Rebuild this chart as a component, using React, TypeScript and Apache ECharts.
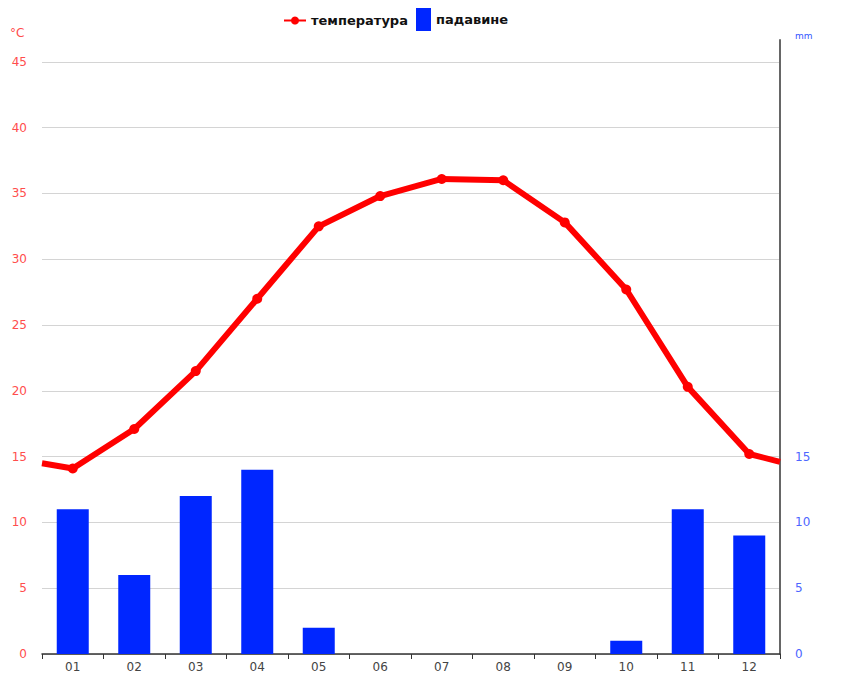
import React, { useEffect, useRef } from "react";
import * as echarts from "echarts";

const months = ["01", "02", "03", "04", "05", "06", "07", "08", "09", "10", "11", "12"];
const temperature = [14.1, 17.1, 21.5, 27.0, 32.5, 34.8, 36.1, 36.0, 32.8, 27.7, 20.3, 15.2];
const tempEdgeStart = 14.5;
const tempEdgeEnd = 14.6;
const precipitation = [11, 6, 12, 14, 2, 0, 0, 0, 0, 1, 11, 9];
const rightLabelMax = 15;

export default function App() {
  const ref = useRef<HTMLDivElement>(null);
  useEffect(() => {
    if (!ref.current) return;
    const chart = echarts.init(ref.current, null, { renderer: "svg" });
    const lineData: any[] = [{ value: [0.5, tempEdgeStart], symbol: "none" }];
    temperature.forEach((t, i) => lineData.push([i + 1, t]));
    lineData.push({ value: [months.length + 0.5, tempEdgeEnd], symbol: "none" });
    const font = "DejaVu Sans";
    const yMax = 46.66;
    chart.setOption({
      animation: false,
      textStyle: { fontFamily: font },
      grid: { left: 42, right: 62, top: 40, bottom: 12 },
      legend: [
        {
          data: ["температура"],
          left: 278,
          top: 9,
          itemWidth: 22,
          itemHeight: 10,
          itemGap: 6,
          textStyle: { fontFamily: font, fontWeight: "bold", fontSize: 13, color: "#111" },
        },
        {
          data: [{ name: "падавине", icon: "rect" }],
          left: 411,
          top: 3,
          itemWidth: 15,
          itemHeight: 23,
          itemGap: 5,
          textStyle: { fontFamily: font, fontWeight: "bold", fontSize: 13, color: "#111" },
        },
      ],
      xAxis: [
        {
          type: "category",
          data: months,
          boundaryGap: true,
          axisLine: { show: true, lineStyle: { color: "#333", width: 1.5 } },
          axisTick: { show: true, alignWithLabel: false, length: 5, lineStyle: { color: "#333" } },
          axisLabel: { color: "#444", fontSize: 12, fontFamily: font, margin: 7 },
          splitLine: { show: false },
        },
        {
          type: "value",
          min: 0.5,
          max: months.length + 0.5,
          show: false,
        },
      ],
      yAxis: [
        {
          type: "value",
          min: 0,
          max: yMax,
          interval: 5,
          position: "left",
          axisLine: { show: false },
          axisTick: { show: false },
          axisLabel: {
            color: "#ff4d4d",
            fontSize: 12,
            fontFamily: font,
            margin: 15,
            showMaxLabel: false,
          },
          splitLine: { show: true, showMaxLine: false, lineStyle: { color: "#d4d4d4", width: 1 } },
        },
        {
          type: "value",
          min: 0,
          max: yMax,
          interval: 5,
          position: "right",
          axisLine: { show: true, onZero: false, lineStyle: { color: "#666", width: 2 } },
          axisTick: { show: false },
          axisLabel: {
            color: "#4d66ff",
            fontSize: 12,
            fontFamily: font,
            margin: 15,
            showMaxLabel: false,
            formatter: (v: number) => (v <= rightLabelMax ? String(v) : ""),
          },
          splitLine: { show: false },
        },
      ],
      graphic: [
        {
          type: "text",
          left: 10,
          top: 27,
          style: { text: "°C", fill: "#ff4d4d", fontSize: 12, fontFamily: font },
        },
        {
          type: "text",
          left: 795,
          top: 31,
          style: { text: "mm", fill: "#3355ff", fontSize: 9, fontFamily: font },
        },
      ],
      series: [
        {
          name: "падавине",
          type: "bar",
          xAxisIndex: 0,
          yAxisIndex: 1,
          data: precipitation,
          barWidth: 32,
          itemStyle: { color: "#0026ff" },
          z: 1,
        },
        {
          name: "температура",
          type: "line",
          xAxisIndex: 1,
          yAxisIndex: 0,
          data: lineData,
          symbol: "circle",
          symbolSize: 10,
          lineStyle: { color: "#ff0000", width: 6 },
          itemStyle: { color: "#ff0000" },
          z: 3,
        },
      ],
    });
    return () => chart.dispose();
  }, []);
  return (
    <div
      ref={ref}
      style={{ position: "fixed", left: 0, top: 0, width: 842, height: 673, background: "#fff" }}
    />
  );
}
